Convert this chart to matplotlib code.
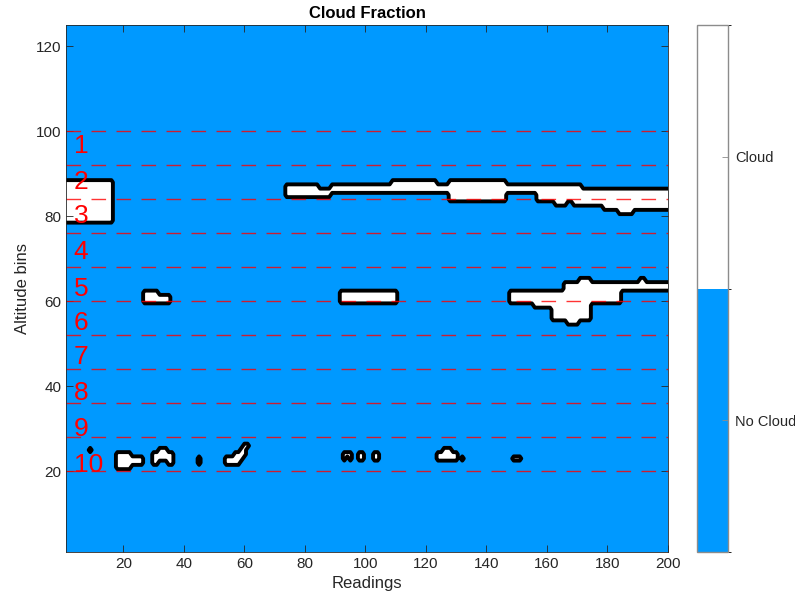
import numpy as np
import matplotlib
matplotlib.use("Agg")
import matplotlib.pyplot as plt
from matplotlib.colors import ListedColormap, BoundaryNorm
import matplotlib.cm as cm

# ---------------- data ----------------
n_readings = 200
n_bins = 125

# cloud segments: (first reading, last reading, lowest bin, highest bin)
cloud_left_block = [(1, 16, 79, 88)]
cloud_upper_band = [
    (74, 84, 85, 87), (85, 88, 85, 86), (89, 108, 86, 87), (109, 123, 86, 88),
    (124, 127, 86, 87), (128, 146, 84, 88), (147, 156, 86, 87), (157, 162, 84, 87),
    (163, 166, 83, 87), (167, 168, 84, 87), (169, 171, 83, 87), (172, 178, 83, 86),
    (179, 183, 82, 86), (184, 188, 81, 86), (189, 200, 82, 86),
]
cloud_mid_small = [(27, 31, 60, 62), (32, 35, 60, 61)]
cloud_mid_bar = [(92, 110, 60, 62)]
cloud_mid_right = [
    (148, 155, 60, 62), (156, 161, 59, 62), (162, 165, 56, 62), (166, 166, 56, 64),
    (167, 170, 55, 64), (171, 174, 56, 65), (175, 184, 60, 64), (185, 190, 63, 64),
    (191, 192, 63, 65), (193, 200, 63, 64),
]
cloud_low = [
    (9, 9, 25, 25),
    (18, 22, 21, 24), (23, 26, 22, 23),
    (30, 31, 22, 24), (32, 34, 23, 25), (35, 36, 22, 24),
    (45, 45, 22, 23),
    (54, 56, 22, 23), (57, 58, 22, 24), (59, 59, 23, 25), (60, 60, 24, 26), (61, 61, 26, 26),
    (93, 93, 23, 24), (94, 94, 24, 24), (95, 95, 23, 24),
    (98, 99, 23, 24),
    (103, 104, 23, 24),
    (124, 130, 23, 24), (126, 128, 25, 25), (132, 132, 23, 23),
    (149, 151, 23, 23),
]

layer_lines = [100, 92, 84, 76, 68, 60, 52, 44, 36, 28, 20]
layer_labels = ["1", "2", "3", "4", "5", "6", "7", "8", "9", "10"]
layer_label_y = [96.5, 88, 80, 71.5, 63, 55, 47, 38.5, 30, 21.5]

xticks = [20, 40, 60, 80, 100, 120, 140, 160, 180, 200]
yticks = [20, 40, 60, 80, 100, 120]
cbar_labels = ["No Cloud", "Cloud"]

# ---------------- build mask ----------------
readings = np.arange(1, n_readings + 1)
bins = np.arange(1, n_bins + 1)
mask = np.zeros((n_bins, n_readings))
for group in (cloud_left_block, cloud_upper_band, cloud_mid_small, cloud_mid_bar,
              cloud_mid_right, cloud_low):
    for x0, x1, y0, y1 in group:
        mask[y0 - 1:y1, x0 - 1:x1] = 1

# ---------------- plot ----------------
blue = (0.0, 0.6, 1.0)
textc = "#262626"
edgec = "#8c8c8c"
plt.rcParams["font.family"] = ["Liberation Sans", "DejaVu Sans"]
plt.rcParams["lines.scale_dashes"] = False

fig = plt.figure(figsize=(7.95, 6.02), dpi=100)
ax = fig.add_axes([66 / 795, 1 - 552 / 602, (668 - 66) / 795, (552 - 25) / 602])
cax = fig.add_axes([697 / 795, 1 - 552 / 602, (728 - 697) / 795, (552 - 25) / 602])

X, Y = np.meshgrid(readings, bins)
ax.contourf(X, Y, mask, levels=[-0.5, 0.5, 1.5], colors=[blue, "white"])
ax.contour(X, Y, mask, levels=[0.5], colors="black", linewidths=2.8)

for yl in layer_lines:
    ax.axhline(yl, color=(1.0, 0.0, 0.0), alpha=0.8, lw=1.0, dashes=(10.5, 7.5))
for lab, yl in zip(layer_labels, layer_label_y):
    ax.text(3.5, yl, lab, color="red", fontsize=19, ha="left", va="center")

ax.set_xlim(1, 200)
ax.set_ylim(1, 125)
ax.set_xticks(xticks)
ax.set_yticks(yticks)
ax.tick_params(direction="in", length=5, width=0.6, colors=textc, labelsize=11,
               top=True, right=True, labelcolor=textc)
for sp in ax.spines.values():
    sp.set_color(textc)
    sp.set_linewidth(0.6)
ax.set_xlabel("Readings", fontsize=12, color=textc)
ax.set_ylabel("Altitude bins", fontsize=12, color=textc)
ax.set_title("Cloud Fraction", fontsize=12, fontweight="bold", color="black", pad=5)

cmap = ListedColormap([blue, "white"])
norm = BoundaryNorm([0, 0.5, 1], 2)
sm = cm.ScalarMappable(norm=norm, cmap=cmap)
cb = fig.colorbar(sm, cax=cax, ticks=[0.25, 0.75])
cb.ax.set_yticklabels(cbar_labels)
cb.ax.tick_params(direction="in", length=4, width=0.6, colors=edgec, labelsize=10.5,
                  labelcolor=textc, pad=5)
cb.outline.set_edgecolor(edgec)
cb.outline.set_linewidth(1.0)

fig.savefig("out.png", dpi=100)
